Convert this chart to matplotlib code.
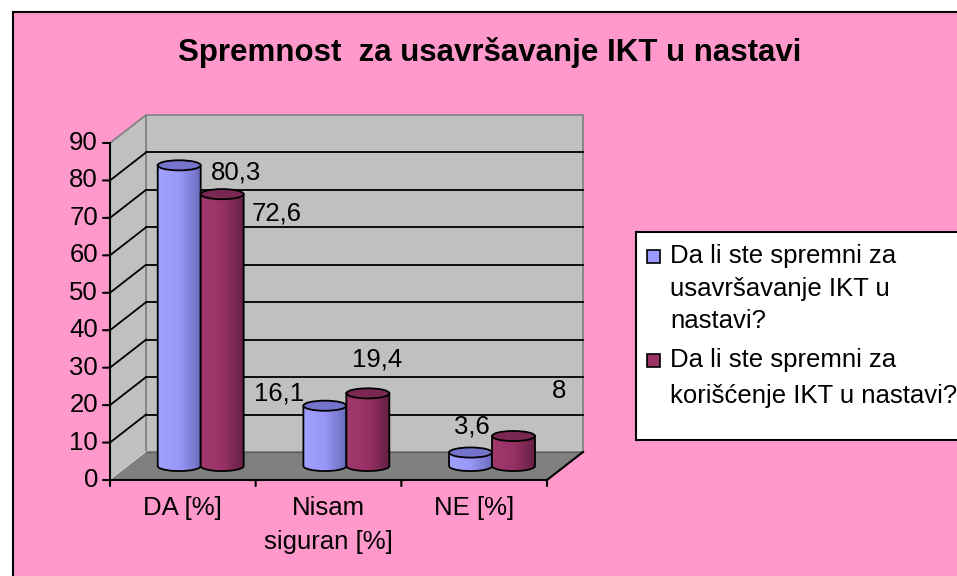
import numpy as np
import matplotlib.pyplot as plt
from matplotlib.patches import Polygon, Ellipse, Rectangle
from matplotlib.colors import LinearSegmentedColormap

plt.rcParams['font.family'] = ['Liberation Sans', 'DejaVu Sans']

title = 'Spremnost  za usavršavanje IKT u nastavi'
categories = ['DA [%]', 'Nisam\nsiguran [%]', 'NE [%]']
series_names = ['Da li ste spremni za\nusavršavanje IKT u\nnastavi?',
                'Da li ste spremni za\nkorišćenje IKT u nastavi?']
spremni_usavrsavanje = [80.3, 16.1, 3.6]
spremni_koriscenje = [72.6, 19.4, 8]
y_ticks = list(range(0, 100, 10))

# label offsets in pixels (right, up) from the top of each cylinder
label_offsets = [[(57, -7), (-46, 12), (1, 26)],
                 [(54, -19), (9, 34), (46, 45)]]

FS = 18.5
W, H = 957, 576
fig = plt.figure(figsize=(W / 100, H / 100), dpi=100, facecolor='white')

# pink chart area with black frame
fig.patches.append(Rectangle((13 / W, -0.05), 1.0, (H - 12) / H + 0.05,
                             transform=fig.transFigure, facecolor='#FF99CC',
                             edgecolor='black', lw=1.5, zorder=-10))

ax = fig.add_axes([110 / W, 96 / H, 437 / W, 337 / H])
ax.axis('off')

DX = 36 / 437 * 3   # depth offset in category units
DY = 28 / 337 * 90  # depth offset in value units
ymax = 90

# walls and floor
ax.add_patch(Polygon([(DX, DY), (3 + DX, DY), (3 + DX, ymax + DY), (DX, ymax + DY)],
                     facecolor='#C0C0C0', edgecolor='#808080', lw=1.2, clip_on=False, zorder=1))
ax.add_patch(Polygon([(0, 0), (DX, DY), (DX, ymax + DY), (0, ymax)],
                     facecolor='#C0C0C0', edgecolor='#808080', lw=1.2, clip_on=False, zorder=1))
for v in y_ticks[1:-1]:
    ax.plot([DX, 3 + DX], [v + DY, v + DY], color='black', lw=1.3, clip_on=False, zorder=2)
    ax.plot([0, DX], [v, v + DY], color='black', lw=1.3, clip_on=False, zorder=2)
ax.plot([0, DX], [0, DY], color='#E8E8E8', lw=1.2, clip_on=False, zorder=2)
ax.add_patch(Polygon([(0, 0), (3, 0), (3 + DX, DY), (DX, DY)],
                     facecolor='#808080', edgecolor='none', clip_on=False, zorder=3))
ax.plot([DX, 3 + DX], [DY, DY], color='#606060', lw=1, clip_on=False, zorder=3)
ax.plot([3, 3 + DX], [0, DY], color='black', lw=1.5, clip_on=False, zorder=3)

# axes lines, ticks and tick labels
ax.plot([0, 0], [0, ymax], color='black', lw=1.5, clip_on=False, zorder=4)
ax.plot([0, 3], [0, 0], color='black', lw=1.5, clip_on=False, zorder=4)
for v in y_ticks:
    ax.annotate('', xy=(0, v), xytext=(-7, 0), textcoords='offset pixels',
                arrowprops=dict(arrowstyle='-', color='black', lw=1.5,
                                shrinkA=0, shrinkB=0), annotation_clip=False)
    ax.annotate(str(v), xy=(0, v), xytext=(-12, 0), textcoords='offset pixels',
                ha='right', va='center', fontsize=FS, annotation_clip=False)
for i in range(4):
    ax.annotate('', xy=(i, 0), xytext=(0, -6), textcoords='offset pixels',
                arrowprops=dict(arrowstyle='-', color='black', lw=1.5,
                                shrinkA=0, shrinkB=0), annotation_clip=False)
for i, cat in enumerate(categories):
    for k, line in enumerate(cat.split('\n')):
        ax.annotate(line, xy=(i + 0.5, 0), xytext=(0, -28 - 34 * k),
                    textcoords='offset pixels', ha='center', va='center',
                    fontsize=FS, annotation_clip=False)

# cylinders
styles = [('#A0A0FF', '#9898F8', '#6C6CBE', '#7474CC', '#9999FF'),
          ('#A0386C', '#983266', '#662044', '#7A2852', '#993366')]
bar_w = 0.295
gap = 0.204
eh = 1.35
x_base = DX / 2
y_base = DY / 2
grad = np.linspace(0, 1, 128).reshape(1, -1)
z = 10
for i in range(len(categories)):
    for j, values in enumerate([spremni_usavrsavanje, spremni_koriscenje]):
        c0, c1, c2, ctop, _ = styles[j]
        x0 = x_base + i + gap + j * bar_w
        top = y_base + values[i]
        t = np.linspace(np.pi, 2 * np.pi, 50)
        bx = x0 + bar_w / 2 + bar_w / 2 * np.cos(t)
        by = y_base + eh * np.sin(t)
        verts = list(zip(bx, by)) + [(x0 + bar_w, top), (x0, top)]
        body = Polygon(verts, closed=True, facecolor='none', edgecolor='black',
                       lw=1.3, zorder=z + 0.2)
        ax.add_patch(body)
        cmap = LinearSegmentedColormap.from_list('cyl', [c0, c1, c2])
        im = ax.imshow(grad, cmap=cmap, aspect='auto', zorder=z + 0.1,
                       extent=(x0, x0 + bar_w, y_base - eh, top), interpolation='bilinear')
        im.set_clip_path(body)
        ax.add_patch(Ellipse((x0 + bar_w / 2, top), bar_w, 2 * eh, facecolor=ctop,
                             edgecolor='black', lw=1.3, zorder=z + 0.3))
        dx, dy = label_offsets[j][i]
        ax.annotate(f'{values[i]:g}'.replace('.', ','), xy=(x0 + bar_w / 2, top),
                    xytext=(dx, dy), textcoords='offset pixels', ha='center',
                    va='center', fontsize=FS, zorder=30, annotation_clip=False)
        z += 1

ax.set_xlim(0, 3)
ax.set_ylim(0, ymax)

fig.text(490 / W, 1 - 52 / H, title, ha='center', va='center',
         fontsize=22.5, fontweight='bold')

# legend
fig.patches.append(Rectangle((636 / W, 1 - 440 / H), 400 / W, 208 / H,
                             transform=fig.transFigure, facecolor='white',
                             edgecolor='black', lw=1.5, zorder=5))
line_y = [[256.5, 289, 321.5], [360.5, 396.5]]
for j, name in enumerate(series_names):
    color = styles[j][4]
    fig.patches.append(Rectangle((647 / W, 1 - (line_y[j][0] + 6.5) / H), 13 / W, 13 / H,
                                 transform=fig.transFigure, facecolor=color,
                                 edgecolor='black', lw=1.2, zorder=6))
    for k, line in enumerate(name.split('\n')):
        fig.text(670 / W, 1 - line_y[j][k] / H, line, ha='left', va='center',
                 fontsize=FS, zorder=7)

fig.savefig('out.png', dpi=100, facecolor=fig.get_facecolor())
